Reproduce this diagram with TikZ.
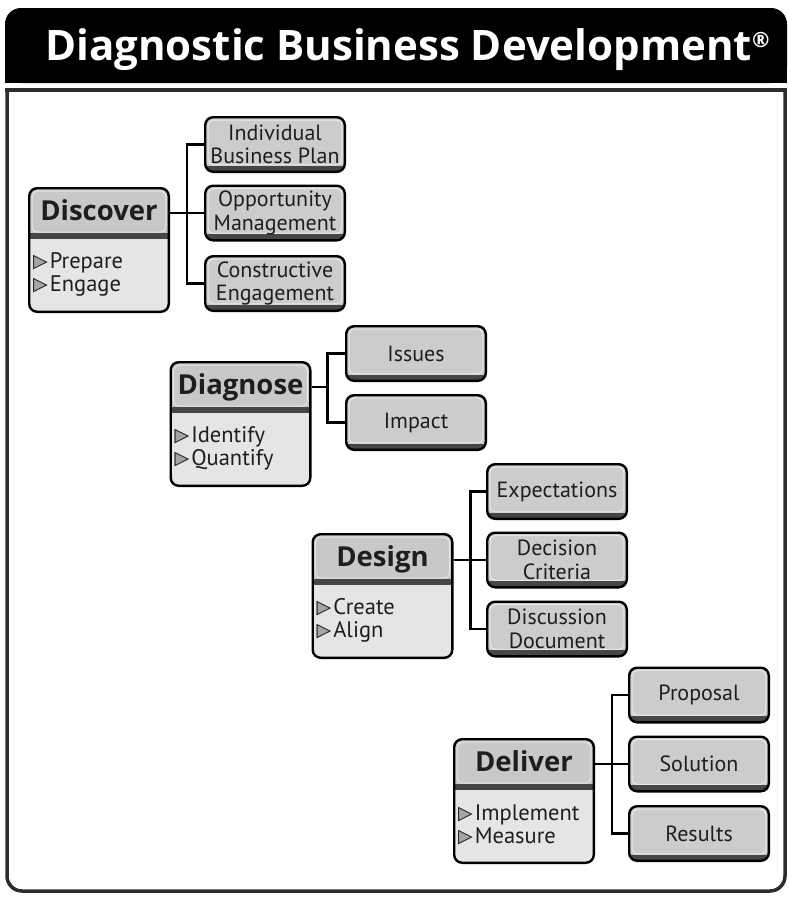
\documentclass[tikz,border=0pt]{standalone}
\usepackage{fontspec}
\setmainfont{PT Sans}
\newfontfamily\phasefont{Open Sans}
\newfontfamily\symfont{DejaVu Sans}
\usetikzlibrary{calc,positioning}
\definecolor{phasehigh}{RGB}{200,200,200}
\definecolor{phaselow}{RGB}{229,229,229}
\definecolor{subfill}{RGB}{204,204,204}
\definecolor{bandgray}{RGB}{70,70,70}
\definecolor{framegray}{RGB}{45,45,45}
\definecolor{trigray}{RGB}{165,165,165}
\definecolor{inkgray}{RGB}{30,30,30}
\newcommand{\tri}{{\symfont\fontsize{19}{19}\selectfont\raisebox{0.5pt}{\rlap{\color{trigray}▶}▷}}\hspace{2pt}}
\tikzset{phase/.style={draw=black,line width=2.4pt,rounded corners=8pt,fill=phaselow,minimum width=139.6pt,minimum height=123.6pt,inner sep=0pt,
path picture={\fill[phasehigh,sharp corners] (path picture bounding box.north west) rectangle ([yshift=-45pt]path picture bounding box.north east);
\draw[white!55!phasehigh,line width=1pt,rounded corners=5pt] ([xshift=3pt,yshift=-3pt]path picture bounding box.north west) rectangle ([xshift=-3pt,yshift=-44pt]path picture bounding box.north east);
\fill[bandgray,sharp corners] ([yshift=-45pt]path picture bounding box.north west) rectangle ([yshift=-51pt]path picture bounding box.north east);}},
sub/.style={draw=black,line width=2.4pt,rounded corners=8pt,fill=subfill,minimum width=139.6pt,minimum height=54.6pt,inner sep=0pt,align=center,
font=\fontsize{22}{23.5}\selectfont,text=inkgray,
path picture={\fill[bandgray,sharp corners] (path picture bounding box.south west) rectangle ([yshift=6pt]path picture bounding box.south east);
\draw[white!55!subfill,line width=1pt,rounded corners=5pt] ([xshift=3pt,yshift=-3pt]path picture bounding box.north west) rectangle ([xshift=-3pt,yshift=7pt]path picture bounding box.south east);}}}
\begin{document}
\begin{tikzpicture}[x=1pt,y=-1pt,link/.style={line width=2.4pt},
  headtitle/.style={font=\phasefont\bfseries\fontsize{42}{42}\selectfont,text=white,inner sep=0pt},
  phasename/.style={font=\phasefont\bfseries\fontsize{27.5}{27.5}\selectfont,text=inkgray,text height=20pt,text depth=6pt,inner sep=0pt},
  items/.style={font=\fontsize{22.5}{23}\selectfont,text=inkgray,align=left,inner sep=0pt,anchor=west}]
  \useasboundingbox (0,0) rectangle (788,898);
  \fill[black,rounded corners=16pt] (5,8) rectangle (787,83);
  \fill[black] (5,50) rectangle (787,83);
  \node[headtitle,anchor=base] (title) at (407.5,60) {Diagnostic Business Development\raisebox{13pt}{\fontsize{21}{21}\selectfont ®}};
  \begin{scope}
    \clip (0,88) rectangle (788,898);
    \draw[framegray,line width=3.5pt,rounded corners=15pt] (7,60) rectangle (785,891);
  \end{scope}
  \draw[framegray,line width=3.5pt] (5.25,90) -- (786.75,90);

  \node[sub] (ibp) at (275,144.5) {Individual\\Business Plan};
  \node[sub] (opm) at (275,213) {Opportunity\\Management};
  \node[sub] (ceng) at (275,283.5) {Constructive\\Engagement};

  \node[sub] (iss) at (416,353.5) {Issues};
  \node[sub] (imp) at (416,422.5) {Impact};

  \node[sub] (expt) at (557,491.5) {Expectations};
  \node[sub] (dcrit) at (557,560) {Decision\\Criteria};
  \node[sub] (ddoc) at (557,629) {Discussion\\Document};

  \node[sub] (prop) at (699,695) {Proposal};
  \node[sub] (solu) at (699,764) {Solution};
  \node[sub] (resu) at (699,833.5) {Results};

  \node[phase] (disc) at (99,250) {};
  \node[phase] (diag) at (240.5,424) {};
  \node[phase] (desg) at (382.5,596) {};
  \node[phase] (delv) at (524,801) {};

  \node[phasename] (disc-t) at ([yshift=-26pt]disc.north) {Discover};
  \node[phasename] (diag-t) at ([yshift=-26pt]diag.north) {Diagnose};
  \node[phasename] (desg-t) at ([yshift=-26pt]desg.north) {Design};
  \node[phasename] (delv-t) at ([yshift=-26pt]delv.north) {Deliver};

  \node[items] (disc-i) at ([xshift=5pt,yshift=-87pt]disc.north west) {\tri Prepare\\\tri Engage};
  \node[items] (diag-i) at ([xshift=5pt,yshift=-87pt]diag.north west) {\tri Identify\\\tri Quantify};
  \node[items] (desg-i) at ([xshift=5pt,yshift=-87pt]desg.north west) {\tri Create\\\tri Align};
  \node[items] (delv-i) at ([xshift=5pt,yshift=-87pt]delv.north west) {\tri Implement\\\tri Measure};

  \draw[link] (disc.east |- opm.west) -- ++(17,0) coordinate (disc-j) -- (opm.west);
  \draw[link] (ibp.west) -| (disc-j) |- (ceng.west);
  \draw[link] (diag.east |- diag-t) -- ++(16,0) coordinate (diag-j);
  \draw[link] (iss.west) -| (diag-j) |- (imp.west);
  \draw[link] (desg.east |- dcrit.west) -- ++(17,0) coordinate (desg-j) -- (dcrit.west);
  \draw[link] (expt.west) -| (desg-j) |- (ddoc.west);
  \draw[link] (delv.east |- solu.west) -- ++(17,0) coordinate (delv-j) -- (solu.west);
  \draw[link] (prop.west) -| (delv-j) |- (resu.west);
\end{tikzpicture}
\end{document}
